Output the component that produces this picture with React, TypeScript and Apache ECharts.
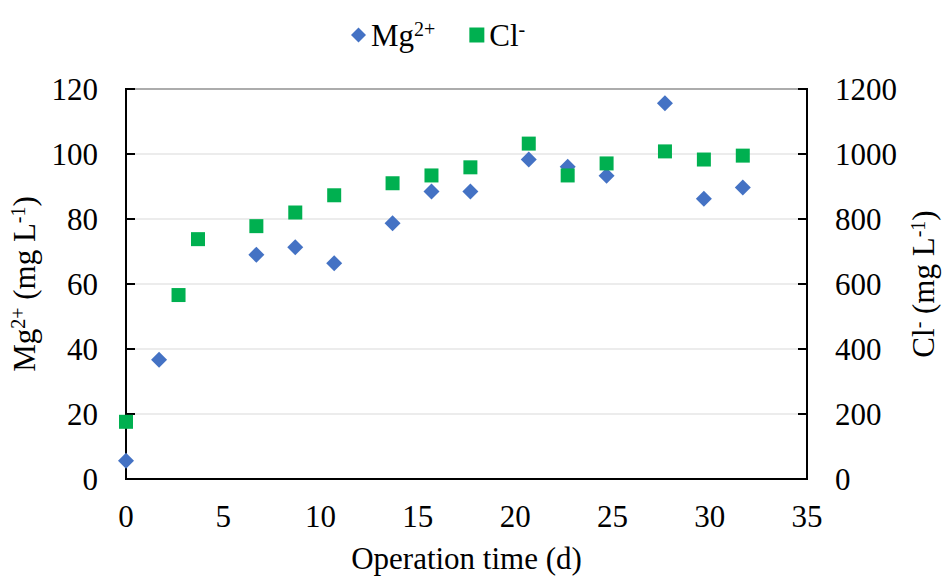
import React, { useEffect, useRef } from "react";
import * as echarts from "echarts";

// Operation time (d) for each sample
const mgDays = [0, 1.7, 6.7, 8.7, 10.7, 13.7, 15.7, 17.7, 20.7, 22.7, 24.7, 27.7, 29.7, 31.7];
const mgValues = [5.6, 36.7, 69.0, 71.3, 66.4, 78.7, 88.5, 88.5, 98.3, 96.1, 93.3, 115.6, 86.2, 89.7];

const clDays = [0, 2.7, 3.7, 6.7, 8.7, 10.7, 13.7, 15.7, 17.7, 20.7, 22.7, 24.7, 27.7, 29.7, 31.7];
const clValues = [176, 566, 738, 778, 820, 873, 910, 934, 959, 1032, 934, 971, 1008, 983, 995];

const FONT = "'Liberation Serif', 'Times New Roman', serif";
const FS = 31;
const SUP = 20;

const rich = {
  n: { fontFamily: FONT, fontSize: FS, color: "#000", lineHeight: 32 },
  s: { fontFamily: FONT, fontSize: SUP, color: "#000", verticalAlign: "top" as const, lineHeight: 32, padding: [0, 0, 10, 0] },
};

export default function App() {
  const ref = useRef<HTMLDivElement>(null);

  useEffect(() => {
    if (!ref.current) return;
    const chart = echarts.init(ref.current, null, { renderer: "svg" });

    const mgData = mgDays.map((d, i) => [d, mgValues[i]]);
    const clData = clDays.map((d, i) => [d, clValues[i]]);

    chart.setOption({
      animation: false,
      backgroundColor: "#fff",
      legend: {
        top: 14,
        left: 346,
        itemWidth: 15,
        itemHeight: 15,
        itemGap: 34,
        data: [
          { name: "Mg", icon: "diamond" },
          { name: "Cl", icon: "rect" },
        ],
        formatter: (name: string) => (name === "Mg" ? "{n|Mg}{s|2+}" : "{n|Cl}{s|-}"),
        textStyle: { fontFamily: FONT, fontSize: FS, color: "#000", rich },
      },
      grid: {
        left: 126,
        right: 137,
        top: 89,
        bottom: 97,
        containLabel: false,
        outerBoundsMode: "none",
        show: true,
        borderColor: "#000",
        borderWidth: 2,
        backgroundColor: "transparent",
      },
      xAxis: {
        type: "value",
        min: 0,
        max: 35,
        interval: 5,
        name: "Operation time (d)",
        nameLocation: "middle",
        nameGap: 63,
        nameTextStyle: { fontFamily: FONT, fontSize: FS, color: "#000", lineHeight: 32 },
        axisLine: { show: true, lineStyle: { color: "#000", width: 2 } },
        axisTick: { show: false },
        splitLine: { show: false },
        axisLabel: { fontFamily: FONT, fontSize: FS, color: "#000", margin: 22 },
      },
      yAxis: [
        {
          type: "value",
          position: "left",
          min: 0,
          max: 120,
          interval: 20,
          name: "{n|Mg}{s|2+}{n| (mg L}{s|-1}{n|)}",
          nameLocation: "middle",
          nameGap: 86,
          nameTextStyle: { fontFamily: FONT, fontSize: FS, color: "#000", rich },
          axisLine: { show: true, lineStyle: { color: "#000", width: 2 } },
          axisTick: { show: true, inside: true, length: 9, lineStyle: { color: "#000", width: 2 } },
          splitLine: { show: true, lineStyle: { color: "#e6e6e6", width: 1.5 } },
          axisLabel: { fontFamily: FONT, fontSize: FS, color: "#000", margin: 28 },
        },
        {
          type: "value",
          position: "right",
          min: 0,
          max: 1200,
          interval: 200,
          name: "{n|Cl}{s|-}{n| (mg L}{s|-1}{n|)}",
          nameLocation: "middle",
          nameGap: 98,
          nameTextStyle: { fontFamily: FONT, fontSize: FS, color: "#000", rich },
          axisLine: { show: true, lineStyle: { color: "#000", width: 2 } },
          axisTick: { show: true, inside: true, length: 9, lineStyle: { color: "#000", width: 2 } },
          splitLine: { show: false },
          axisLabel: {
            fontFamily: FONT,
            fontSize: FS,
            color: "#000",
            margin: 28,
            formatter: (v: number) => String(v),
          },
        },
      ],
      series: [
        {
          name: "Mg",
          type: "scatter",
          yAxisIndex: 0,
          symbol: "diamond",
          symbolSize: 16,
          itemStyle: { color: "#4472C4", opacity: 1 },
          data: mgData,
        },
        {
          name: "Cl",
          type: "scatter",
          yAxisIndex: 1,
          symbol: "rect",
          symbolSize: 14,
          itemStyle: { color: "#00B050", opacity: 1 },
          data: clData,
        },
      ],
    });

    return () => chart.dispose();
  }, []);

  return <div ref={ref} style={{ width: 944, height: 576, position: "absolute", left: 0, top: 0 }} />;
}
